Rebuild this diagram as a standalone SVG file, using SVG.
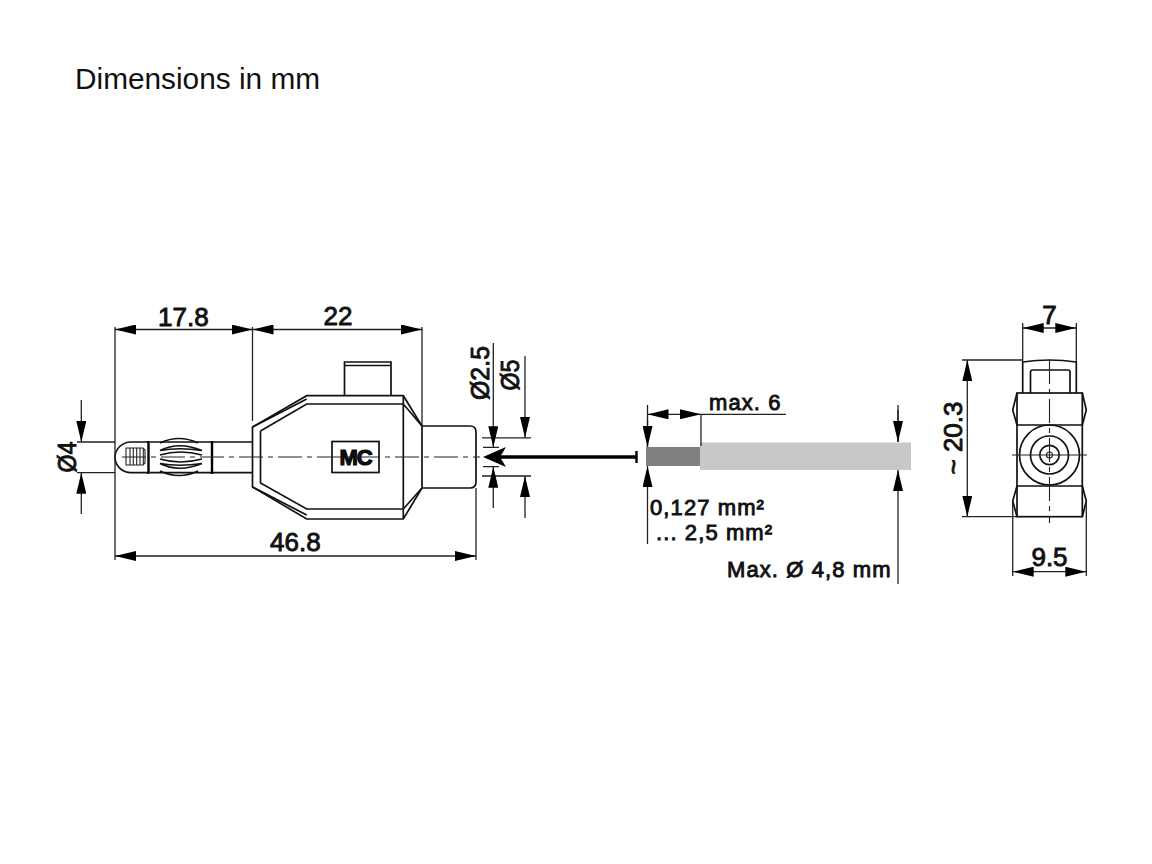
<svg xmlns="http://www.w3.org/2000/svg" width="1152" height="864" viewBox="0 0 1152 864">
<style>
.l{fill:none;stroke:#111;stroke-width:1.7}
.h{fill:none;stroke:#000;stroke-width:2.4}
.t{fill:none;stroke:#222;stroke-width:1.1}
.c{fill:none;stroke:#222;stroke-width:1.1;stroke-dasharray:24 5 5 5}
.d{fill:none;stroke:#222;stroke-width:1.3}
.a{marker-end:url(#ah)}
.b{marker-start:url(#ah);marker-end:url(#ah)}
text{font-family:"Liberation Sans",Arial,sans-serif;fill:#111}
.m{font-size:26px;stroke:#111;stroke-width:.9}
.s{font-size:22px;stroke:#111;stroke-width:.9;letter-spacing:1.1px}
</style>
<defs>
<marker id="ah" markerUnits="userSpaceOnUse" markerWidth="21" markerHeight="10" refX="21" refY="5" orient="auto-start-reverse"><path d="M0,0 L21,5 L0,10 Z" fill="#000"/></marker>
</defs>
<rect width="1152" height="864" fill="#fff"/>
<text id="title" x="75" y="89" font-size="29.8">Dimensions in mm</text>

<g id="plug-pin">
<path class="l" d="M150,442H252M150,472.7H252M148,442H131A16,15.35 0 0 0 131,472.7H148"/>
<path class="h" d="M148.5,441V474M212,441V474"/>
<path class="t" d="M126,448H143L145,450V463L143,465H126ZM130,448V465M133.3,448V465M136.7,448V465M140,448V465M143.3,448V465"/>
<path class="l" d="M160,443Q179,434 198,443M160,471Q179,480 198,471"/>
<path class="l" d="M160,450.5Q179,441 202,450.5M160,450.5Q179,447 202,450.5M160,463.5Q179,473 202,463.5M160,463.5Q179,467 202,463.5"/>
<path class="l" d="M160,455Q180,449 202,455M160,459Q180,465 202,459"/>
</g>

<g id="plug-body">
<path class="l" d="M252.5,427L306.7,395.7H403.3L422,426V488L403.3,519H306.7L252.5,487Z"/>
<path class="l" d="M260.5,431L306.7,404H403.3M260.5,431V483L306.7,509H403.3"/>
<path class="l" d="M403.3,396V519M403.3,404L422,426M403.3,509L422,488M252.5,427L306.7,399M252.5,487L306.7,515"/>
<path class="l" d="M422,426H470Q476,426 476,432V482Q476,488 470,488H422"/>
<path class="l" d="M344.5,395.5V362H391V395.5M344.5,365.5H391"/>
</g>

<g id="mc-label">
<rect class="l" x="332" y="441.5" width="47" height="31" fill="#fff"/>
<text x="355.5" y="465" font-size="22" font-weight="bold" text-anchor="middle" stroke="#000" stroke-width="1.1" letter-spacing="-1">MC</text>
</g>

<g id="cable">
<rect x="700" y="442.5" width="211" height="27.5" fill="#c8c8c8"/>
<rect x="646" y="447" width="54" height="19" fill="#808080"/>
</g>

<g id="end-view">
<path class="l" d="M1022.7,393V362Q1049.5,358 1076.3,362V393"/>
<path class="l" d="M1030.5,393V372Q1030.5,370 1033,370H1068Q1070,370 1070,372V393"/>
<rect class="l" x="1017" y="393" width="65.3" height="123.7"/>
<path class="l" d="M1017,393L1012.7,410L1017,425M1017,486L1012.7,501L1017,516.7M1082.3,393L1086.3,410L1082.3,425M1082.3,486L1086.3,501L1082.3,516.7M1017,425H1082.3M1017,486H1082.3"/>
<circle class="l" cx="1049.5" cy="455" r="30"/>
<circle class="l" cx="1049.5" cy="455" r="19"/>
<circle class="l" cx="1049.5" cy="455" r="9.7"/>
<circle class="t" cx="1049.5" cy="455" r="3"/>
</g>

<g id="connectors">
<path class="c" d="M122,457H480"/>
<path class="c" d="M1049.5,360V523"/>
<path class="t" d="M1012,455H1087"/>

<path class="d" d="M115,327V560M252.5,327V421M422,327V426M476,488V560"/>
<line class="d b" x1="115" y1="329.5" x2="252.5" y2="329.5"/>
<line class="d b" x1="252.5" y1="329.5" x2="422" y2="329.5"/>
<line class="d b" x1="115" y1="556" x2="476" y2="556"/>

<path class="d" d="M77,442H115M77,472.7H115"/>
<line class="d a" x1="81.3" y1="400" x2="81.3" y2="442"/>
<line class="d a" x1="81.3" y1="514" x2="81.3" y2="472.7"/>

<path class="d" d="M482,437.8H531M482,476H531M483,447.3H499M483,466.7H499"/>
<line class="d a" x1="493.3" y1="343" x2="493.3" y2="447.3"/>
<line class="d a" x1="493.3" y1="508" x2="493.3" y2="466.7"/>
<line class="d a" x1="525" y1="356" x2="525" y2="437.8"/>
<line class="d a" x1="525" y1="518" x2="525" y2="476"/>

<path d="M637,457H500" fill="none" stroke="#000" stroke-width="3.4"/>
<path d="M636.5,451V463" fill="none" stroke="#000" stroke-width="2.4"/>
<path d="M483,457L506,447L500,457L506,467Z" fill="#000"/>

<path class="d" d="M647.5,405V447M701,414V446M701,414.3H786M898,405V442"/>
<line class="d b" x1="647.5" y1="414.3" x2="701" y2="414.3"/>
<line class="d a" x1="647.5" y1="420" x2="647.5" y2="447"/>
<line class="d a" x1="647.5" y1="544" x2="647.5" y2="466"/>
<line class="d a" x1="898" y1="410" x2="898" y2="442"/>
<line class="d a" x1="898" y1="584" x2="898" y2="470"/>

<path class="d" d="M1022.7,323V362M1076.3,323V362M962,360H1022M962,516.7H1017M1012.7,502V576M1086.3,502V576"/>
<line class="d b" x1="1022.7" y1="328" x2="1076.3" y2="328"/>
<line class="d b" x1="967.3" y1="360" x2="967.3" y2="516.7"/>
<line class="d b" x1="1012.7" y1="571.7" x2="1086.3" y2="571.7"/>
</g>

<g id="labels">
<text class="m" x="158" y="326">17.8</text>
<text class="m" x="338" y="325" text-anchor="middle">22</text>
<text class="m" x="270" y="551">46.8</text>
<text class="m" transform="translate(76,457) rotate(-90)" text-anchor="middle" textLength="31" lengthAdjust="spacingAndGlyphs">Ø4</text>
<text class="m" transform="translate(488.5,373) rotate(-90)" text-anchor="middle" textLength="54" lengthAdjust="spacingAndGlyphs">Ø2.5</text>
<text class="m" transform="translate(519,375) rotate(-90)" text-anchor="middle" textLength="31" lengthAdjust="spacingAndGlyphs">Ø5</text>
<text class="m" transform="translate(962,438) rotate(-90)" text-anchor="middle">~ 20.3</text>
<text class="m" x="1049.5" y="324" text-anchor="middle">7</text>
<text class="m" x="1049.5" y="566" text-anchor="middle">9.5</text>
<text class="s" x="709" y="410">max. 6</text>
<text class="s" x="650" y="515">0,127 mm²</text>
<text class="s" x="656" y="540">... 2,5 mm²</text>
<text class="s" x="727" y="577">Max. Ø 4,8 mm</text>
</g>
</svg>
